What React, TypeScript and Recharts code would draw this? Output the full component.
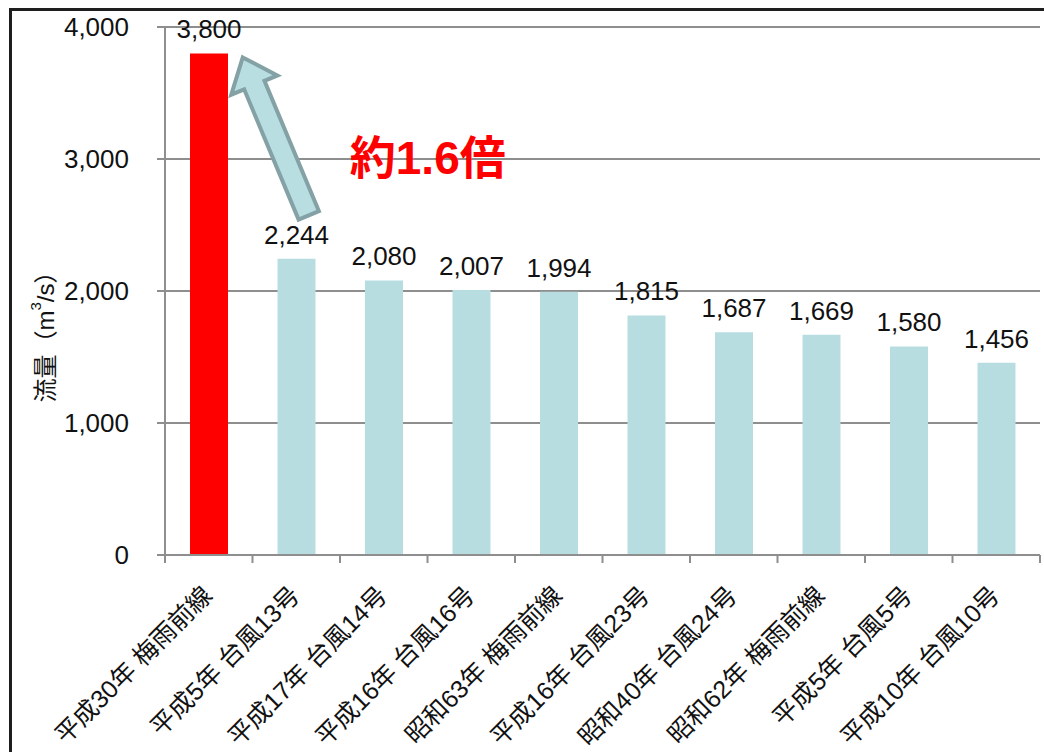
import React from 'react'
import { BarChart, Bar, XAxis, YAxis, CartesianGrid, Cell, LabelList, ReferenceDot, Label } from 'recharts'

const categories = [
  '平成30年 梅雨前線',
  '平成5年 台風13号',
  '平成17年 台風14号',
  '平成16年 台風16号',
  '昭和63年 梅雨前線',
  '平成16年 台風23号',
  '昭和40年 台風24号',
  '昭和62年 梅雨前線',
  '平成5年 台風5号',
  '平成10年 台風10号',
]
const flows = [3800, 2244, 2080, 2007, 1994, 1815, 1687, 1669, 1580, 1456]
const yTicks = [0, 1000, 2000, 3000, 4000]
const ratioText = '約1.6倍'

const data = categories.map((name, i) => ({ name, flow: flows[i] }))

const FONT = '"Liberation Sans", Arial, "Noto Sans CJK JP", sans-serif'
const GRID = '#8e8e8e'
const fmt = (v: number) => v.toLocaleString('en-US')

const XTick = (props: any) => {
  const { x, y, payload, index } = props
  const half = payload && payload.offset ? payload.offset : 43.75
  const last = index === categories.length - 1
  return (
    <g>
      <line x1={x - half} x2={x - half} y1={y} y2={y + 8} stroke={GRID} strokeWidth={2} />
      {last && <line x1={x + half} x2={x + half} y1={y} y2={y + 8} stroke={GRID} strokeWidth={2} />}
      <text
        x={x + 5}
        y={y + 42}
        transform={`rotate(-45, ${x + 5}, ${y + 42})`}
        textAnchor="end"
        fontSize={25}
        fontFamily={FONT}
        fill="#111"
      >
        {payload.value}
      </text>
    </g>
  )
}

// arrow from the 2nd bar region pointing at the top of the 1st bar, plus the ratio text
const RatioArrow = ({ cx, cy }: { cx: number; cy: number }) => {
  const tx = cx + 34
  const ty = cy + 4
  const bx = cx + 100
  const by = cy + 162
  const len = Math.hypot(tx - bx, ty - by)
  const ux = (tx - bx) / len
  const uy = (ty - by) / len
  const nx = -uy
  const ny = ux
  const h = 30
  const hw = 25
  const sw = 11
  const hx = tx - ux * h
  const hy = ty - uy * h
  const pts = [
    [tx, ty],
    [hx + nx * hw, hy + ny * hw],
    [hx + nx * sw, hy + ny * sw],
    [bx + nx * sw, by + ny * sw],
    [bx - nx * sw, by - ny * sw],
    [hx - nx * sw, hy - ny * sw],
    [hx - nx * hw, hy - ny * hw],
  ]
  return (
    <g>
      <polygon
        points={pts.map((p) => p.join(',')).join(' ')}
        fill="#b9dee2"
        stroke="#84a2a5"
        strokeWidth={4}
        strokeLinejoin="miter"
      />
      <text
        x={cx + 219}
        y={cy + 121}
        textAnchor="middle"
        fontSize={46}
        fontWeight="bold"
        fontFamily={FONT}
        fill="#ff0000"
      >
        {ratioText}
      </text>
    </g>
  )
}

const YTitle = () => (
  <text
    x={45}
    y={331}
    transform="rotate(-90, 45, 331)"
    textAnchor="middle"
    dominantBaseline="central"
    fontSize={24}
    fontFamily={FONT}
    fill="#111"
  >
    流量（m<tspan fontSize={15} dy={-10}>3</tspan>
    <tspan dy={10}>/s）</tspan>
  </text>
)

export default function App() {
  return (
    <div style={{ position: 'relative', width: 1044, height: 752, overflow: 'hidden', background: '#fff' }}>
      <style>{'body{margin:0;overflow:hidden}'}</style>
      <div
        style={{
          position: 'absolute',
          left: 9,
          top: 8,
          width: 1100,
          height: 800,
          border: '3px solid #1e1e1e',
        }}
      />
      <div style={{ position: 'absolute', left: 0, top: 0 }}>
        <BarChart width={1044} height={752} data={data} margin={{ top: 27, right: 4, bottom: 0, left: 0 }}>
          <CartesianGrid vertical={false} stroke={GRID} strokeWidth={2} />
          <XAxis
            dataKey="name"
            height={197}
            tickLine={false}
            tickSize={0}
            tickMargin={0}
            interval={0}
            axisLine={{ stroke: GRID, strokeWidth: 2 }}
            tick={<XTick />}
          />
          <YAxis
            width={165}
            domain={[0, 4000]}
            ticks={yTicks}
            tickFormatter={fmt}
            tickSize={8}
            tickMargin={28}
            tickLine={{ stroke: GRID, strokeWidth: 2 }}
            axisLine={{ stroke: GRID, strokeWidth: 2 }}
            tick={{ fontSize: 26, fontFamily: FONT, fill: '#111' }}
          >
            <Label content={() => <YTitle />} />
          </YAxis>
          <Bar dataKey="flow" barSize={38} isAnimationActive={false}>
            {data.map((d, i) => (
              <Cell key={d.name} fill={i === 0 ? '#ff0000' : '#b7dde1'} />
            ))}
            <LabelList
              dataKey="flow"
              position="top"
              offset={15}
              formatter={(v: any) => fmt(Number(v))}
              style={{ fontSize: 26, fontFamily: FONT, fill: '#111' }}
            />
          </Bar>
          <ReferenceDot
            x={categories[0]}
            y={flows[0]}
            r={0}
            ifOverflow="visible"
            shape={(p: any) => <RatioArrow cx={p.cx} cy={p.cy} />}
          />
        </BarChart>
      </div>
    </div>
  )
}
